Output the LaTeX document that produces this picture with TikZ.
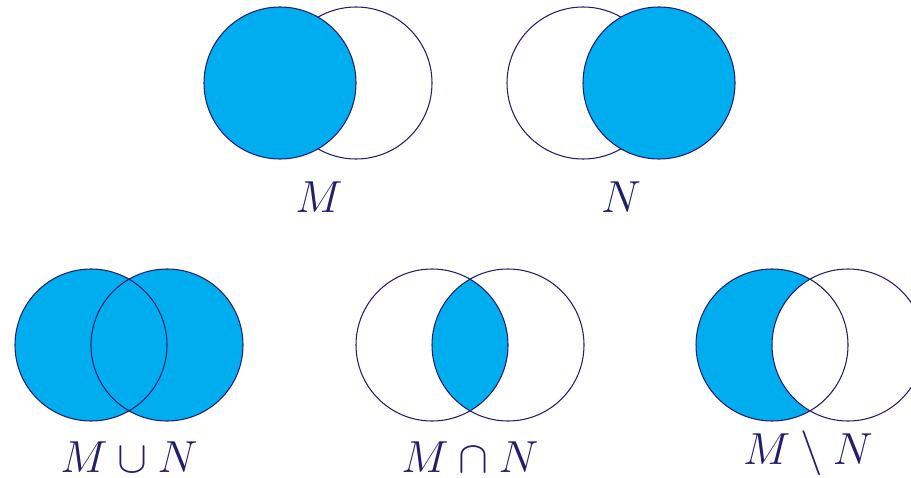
\documentclass[tikz,border=0pt]{standalone}
\usetikzlibrary{positioning}
\definecolor{setline}{RGB}{33,30,110}
\definecolor{setfill}{RGB}{0,174,239}
\begin{document}
\begin{tikzpicture}[x=0.02cm,y=0.02cm,
    rim/.style={draw=setline, line width=0.6pt},
    area/.style={fill=setfill},
    setlabel/.style={text=setline, font=\LARGE, scale=1.48, inner sep=0pt}]
  \useasboundingbox[clip] (0,0) rectangle (911,477);

  % M
  \coordinate (m1) at (280,394);
  \coordinate (n1) at (356,394);
  \draw[rim] (n1) circle (76);
  \draw[rim, area] (m1) circle (76);
  \node[setlabel] (lm) at (319,280) {$M$};

  % N
  \coordinate (m2) at (583,394);
  \coordinate (n2) at (659,394);
  \draw[rim] (m2) circle (76);
  \draw[rim, area] (n2) circle (76);
  \node[setlabel] (ln) at (621,280) {$N$};

  % Vereinigung
  \coordinate (m3) at (91,132);
  \coordinate (n3) at (167,132);
  \fill[area] (m3) circle (76) (n3) circle (76);
  \draw[rim] (m3) circle (76);
  \draw[rim] (n3) circle (76);
  \node[setlabel] (lu) at (129,20) {$M\cup N$};

  % Schnitt
  \coordinate (m4) at (432,132);
  \coordinate (n4) at (508,132);
  \begin{scope}
    \clip (m4) circle (76);
    \fill[area] (n4) circle (76);
  \end{scope}
  \draw[rim] (m4) circle (76);
  \draw[rim] (n4) circle (76);
  \node[setlabel] (li) at (470,20) {$M\cap N$};

  % Differenz
  \coordinate (m5) at (772,132);
  \coordinate (n5) at (848,132);
  \begin{scope}
    \clip (m5) circle (76);
    \fill[area, even odd rule] (m5) circle (76) (n5) circle (76);
  \end{scope}
  \draw[rim] (m5) circle (76);
  \draw[rim] (n5) circle (76);
  \node[setlabel] (ld) at (808,24) {$M\setminus N$};
\end{tikzpicture}
\end{document}
